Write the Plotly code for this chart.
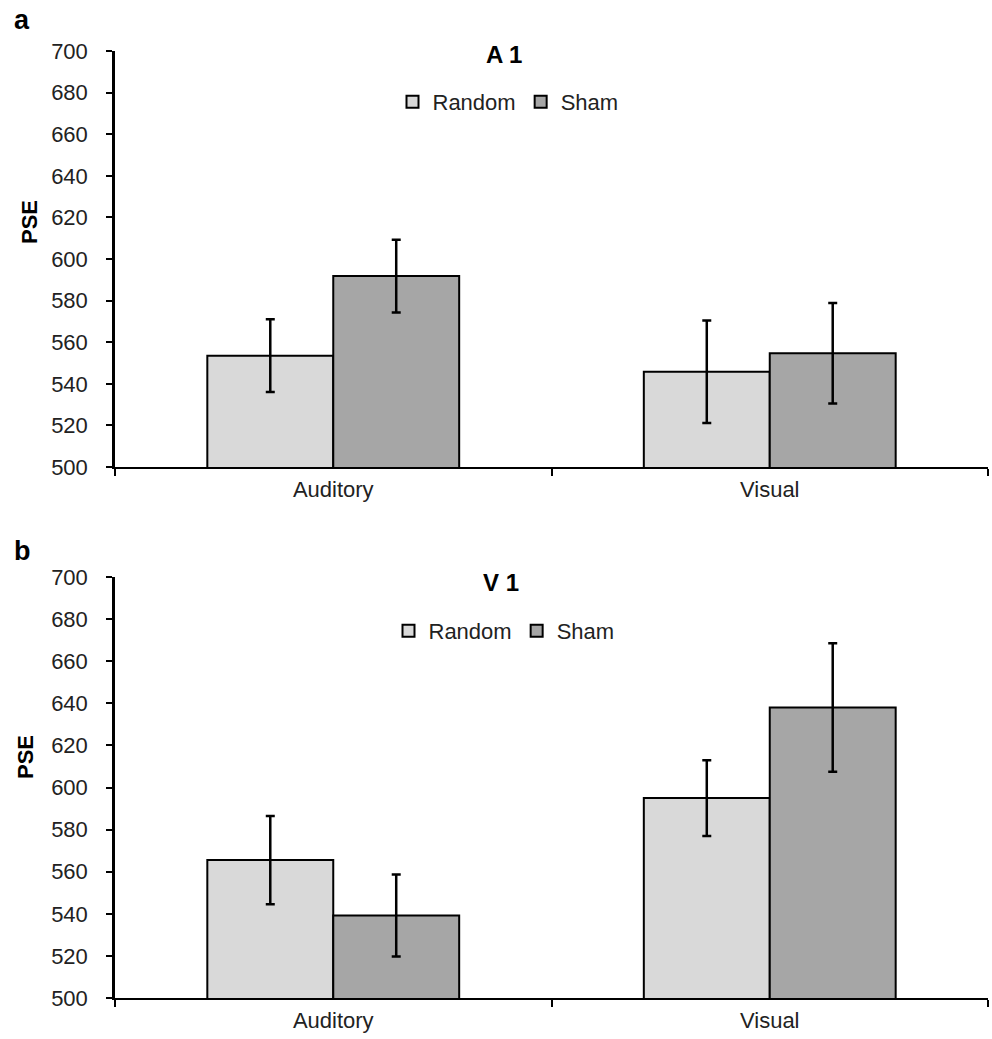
import plotly.graph_objects as go

categories = ["Auditory", "Visual"]
series_names = ["Random", "Sham"]
colors = {"Random": "#d9d9d9", "Sham": "#a6a6a6"}

# Panel a (A 1)
a_random = [553.5, 545.8]
a_random_err = [17.5, 24.6]
a_sham = [591.8, 554.7]
a_sham_err = [17.5, 24.2]

# Panel b (V 1)
b_random = [565.5, 595.0]
b_random_err = [21.0, 18.0]
b_sham = [539.2, 638.0]
b_sham_err = [19.5, 30.5]

y_ticks = [500, 520, 540, 560, 580, 600, 620, 640, 660, 680, 700]

FONT = "Liberation Sans, Arial, sans-serif"
fig = go.Figure()

def add_bars(vals, errs, name, xa, ya, legend):
    fig.add_trace(go.Bar(
        x=categories, y=vals, name=name, xaxis=xa, yaxis=ya, legend=legend,
        marker=dict(color=colors[name], line=dict(color="black", width=2)),
        error_y=dict(type="data", array=errs, visible=True, color="black",
                     thickness=2.5, width=4.5),
    ))

add_bars(a_random, a_random_err, "Random", "x", "y", "legend")
add_bars(a_sham, a_sham_err, "Sham", "x", "y", "legend")
add_bars(b_random, b_random_err, "Random", "x2", "y2", "legend2")
add_bars(b_sham, b_sham_err, "Sham", "x2", "y2", "legend2")

W, H = 992, 1039
ml, mr, mt, mb = 115, 4, 51, 41
ph = H - mt - mb
pw = W - ml - mr

def py(ypx):
    return (H - mb - ypx) / ph

def px(xpx):
    return (xpx - ml) / pw

xcommon = dict(showline=True, linecolor="black", linewidth=2, ticks="outside",
               tickson="boundaries", ticklen=7, tickwidth=2, tickcolor="black",
               tickfont=dict(family=FONT, size=22, color="#222"),
               showgrid=False, zeroline=False, ticklabelstandoff=2)
ycommon = dict(range=[500, 700], tickvals=y_ticks, showline=True, linecolor="black",
               linewidth=2.5, ticks="outside", ticklen=6, tickwidth=2, tickcolor="black",
               tickfont=dict(family=FONT, size=22, color="#222"), showgrid=False,
               zeroline=False, ticklabelstandoff=14)

legend_common = dict(orientation="h", xanchor="center", yanchor="middle",
                     font=dict(family=FONT, size=22, color="#222"),
                     bgcolor="rgba(0,0,0,0)", itemwidth=30, tracegroupgap=0)

fig.update_layout(
    width=W, height=H, margin=dict(l=ml, r=mr, t=mt, b=mb),
    paper_bgcolor="white", plot_bgcolor="white",
    barmode="group", bargap=0.423, bargroupgap=0,
    xaxis=dict(domain=[0, 1], anchor="y", **xcommon),
    yaxis=dict(domain=[py(467), 1], anchor="x", **ycommon),
    xaxis2=dict(domain=[0, 1], anchor="y2", **xcommon),
    yaxis2=dict(domain=[0, py(577)], anchor="x2", **ycommon),
    legend=dict(x=px(508), y=py(102), **legend_common),
    legend2=dict(x=px(504), y=py(631), **legend_common),
    showlegend=True,
)

def ann(text, x, y, size, anchor="center", angle=0):
    fig.add_annotation(text=text, xref="paper", yref="paper", x=px(x), y=py(y),
                       xanchor=anchor, yanchor="middle", showarrow=False, textangle=angle,
                       font=dict(family=FONT, size=size, color="black"))

ann("<b>a</b>", 12, 20, 27, anchor="left")
ann("<b>b</b>", 12, 551, 27, anchor="left")
ann("<b>A 1</b>", 504, 54, 24)
ann("<b>V 1</b>", 501, 582, 24)
ann("<b>PSE</b>", 29, 222, 22, angle=-90)
ann("<b>PSE</b>", 25, 757, 22, angle=-90)

fig.write_html("out.html", config={"displayModeBar": False},
               post_script="document.body.style.margin='0';document.body.style.padding='0';")
